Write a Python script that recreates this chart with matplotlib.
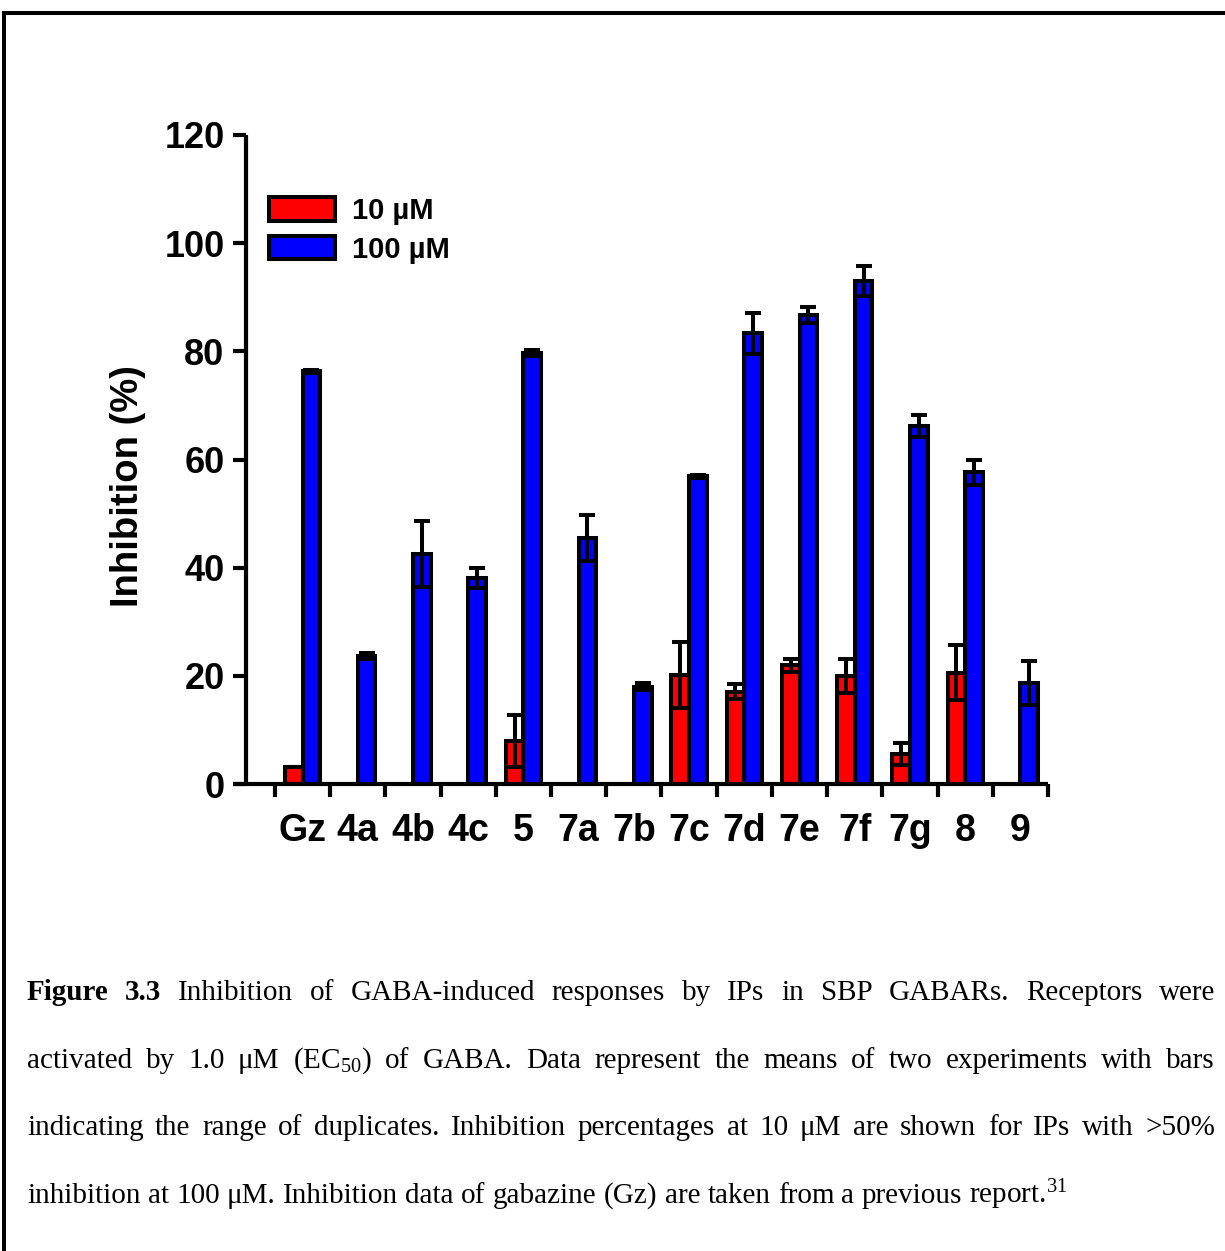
import numpy as np
import matplotlib
matplotlib.use('Agg')
import matplotlib.pyplot as plt
from matplotlib.patches import Patch
from matplotlib.lines import Line2D

plt.rcParams['mathtext.fontset'] = 'custom'
plt.rcParams['mathtext.rm'] = 'Liberation Serif'
plt.rcParams['mathtext.it'] = 'Liberation Serif:italic'
plt.rcParams['mathtext.bf'] = 'Liberation Serif:bold'

# data (nan = not tested / not shown)
compounds = ['Gz', '4a', '4b', '4c', '5', '7a', '7b', '7c', '7d', '7e', '7f', '7g', '8', '9']
inh_10uM = [3.1, np.nan, np.nan, np.nan, 8.0, np.nan, np.nan, 20.1, 17.1, 22.0, 20.0, 5.6, 20.6, np.nan]
err_10uM = [0.0, np.nan, np.nan, np.nan, 4.8, np.nan, np.nan, 6.1, 1.4, 1.2, 3.1, 2.0, 5.1, np.nan]
inh_100uM = [76.3, 23.7, 42.5, 38.1, 79.7, 45.5, 18.0, 56.9, 83.3, 86.7, 93.0, 66.2, 57.6, 18.7]
err_100uM = [0.3, 0.6, 6.1, 1.9, 0.5, 4.2, 0.7, 0.3, 3.8, 1.5, 2.7, 2.1, 2.3, 4.1]
y_ticks = [0, 20, 40, 60, 80, 100, 120]

W, H = 1225, 1251
sans = 'Liberation Sans'
serif = 'Liberation Serif'

fig = plt.figure(figsize=(W / 100, H / 100), dpi=100)
ax = fig.add_axes([246 / W, 1 - 784 / H, 802 / W, 649 / H])

x = np.arange(len(compounds))
bw = 0.32
lw = 2.9

v10 = np.array(inh_10uM)
e10 = np.array(err_10uM)
v100 = np.array(inh_100uM)
e100 = np.array(err_100uM)
m10 = ~np.isnan(v10)

# bars
ax.bar(x[m10] - bw / 2, v10[m10], bw, color='#ff0000', edgecolor='black', linewidth=lw, zorder=2)
ax.bar(x + bw / 2, v100, bw, color='#0000ff', edgecolor='black', linewidth=lw, zorder=2)

# error bars (range of duplicates)
ax.errorbar(x[m10] - bw / 2, v10[m10], yerr=e10[m10], fmt='none', ecolor='black',
            elinewidth=lw, capsize=6, capthick=lw, zorder=3)
ax.errorbar(x + bw / 2, v100, yerr=e100, fmt='none', ecolor='black',
            elinewidth=lw, capsize=6, capthick=lw, zorder=3)

ax.set_xlim(-1.024, 13.5)
ax.set_ylim(0, 120)

for s in ['top', 'right']:
    ax.spines[s].set_visible(False)
for s in ['left', 'bottom']:
    ax.spines[s].set_linewidth(3)
    ax.spines[s].set_capstyle('butt')

# x axis runs a little past the y axis, prism style
ax.plot([-1.024 - 13 / 55.3, -1.024], [0, 0], color='black', lw=3,
        solid_capstyle='butt', clip_on=False, zorder=4)

ax.set_yticks(y_ticks)
ax.set_yticklabels([str(v) for v in y_ticks])
ax.tick_params(axis='y', length=9.4, width=3, pad=6, labelsize=26)

ax.set_xticks(x)
ax.set_xticklabels(compounds)
ax.set_xticks(np.arange(-0.5, len(compounds)), minor=True)
ax.tick_params(axis='x', which='major', length=0, pad=21, labelsize=27)
ax.tick_params(axis='x', which='minor', length=9.4, width=3)

for lab in ax.get_xticklabels() + ax.get_yticklabels():
    lab.set_fontfamily(sans)
    lab.set_fontweight('bold')

fig.text(128 / W, 1 - 486 / H, 'Inhibition (%)', rotation=90, ha='center', va='center',
         fontsize=27.5, fontweight='bold', family=sans)

handles = [Patch(facecolor='#ff0000', edgecolor='black', linewidth=lw, label='10 µM'),
           Patch(facecolor='#0000ff', edgecolor='black', linewidth=lw, label='100 µM')]
fig.legend(handles=handles, loc='upper left', bbox_to_anchor=(269 / W, 1 - 197 / H),
           frameon=False, borderpad=0, borderaxespad=0, handlelength=2.25,
           handleheight=0.88, handletextpad=0.6, labelspacing=0.36,
           prop=dict(family=sans, weight='bold', size=21))

# page frame
fig.add_artist(Line2D([4 / W, 4 / W], [0, 1 - 13 / H], color='black', lw=2.9,
                      transform=fig.transFigure, solid_capstyle='projecting'))
fig.add_artist(Line2D([4 / W, 1], [1 - 13 / H, 1 - 13 / H], color='black', lw=2.9,
                      transform=fig.transFigure, solid_capstyle='projecting'))

# caption, justified line by line
B = 'bold'
N = 'normal'
caption_lines = [
    [('Figure', B), ('3.3', B)] + [(w, N) for w in
        'Inhibition of GABA-induced responses by IPs in SBP GABARs. Receptors were'.split()],
    [(w, N) for w in
        'activated by 1.0 μM (EC$_{50}$) of GABA. Data represent the means of two experiments with bars'.split()],
    [(w, N) for w in
        'indicating the range of duplicates. Inhibition percentages at 10 μM are shown for IPs with >50%'.split()],
    [(w, N) for w in
        'inhibition at 100 μM. Inhibition data of gabazine (Gz) are taken from a previous report.$^{31}$'.split()],
]
baselines = [1000, 1068, 1135, 1203]

renderer = fig.canvas.get_renderer()
cap_size = 21
left, right = 27, 1215
for i, (parts, base) in enumerate(zip(caption_lines, baselines)):
    objs = [fig.text(0, 1 - base / H, w, fontsize=cap_size, family=serif, weight=wt,
                     va='baseline') for w, wt in parts]
    widths = [o.get_window_extent(renderer).width for o in objs]
    if i < len(caption_lines) - 1:
        gap = (right - left - sum(widths)) / (len(objs) - 1)
    else:
        gap = 0.25 * cap_size * 100 / 72
    xp = left
    for o, w in zip(objs, widths):
        o.set_x(xp / W)
        xp += w + gap

fig.savefig('out.png', dpi=100)
